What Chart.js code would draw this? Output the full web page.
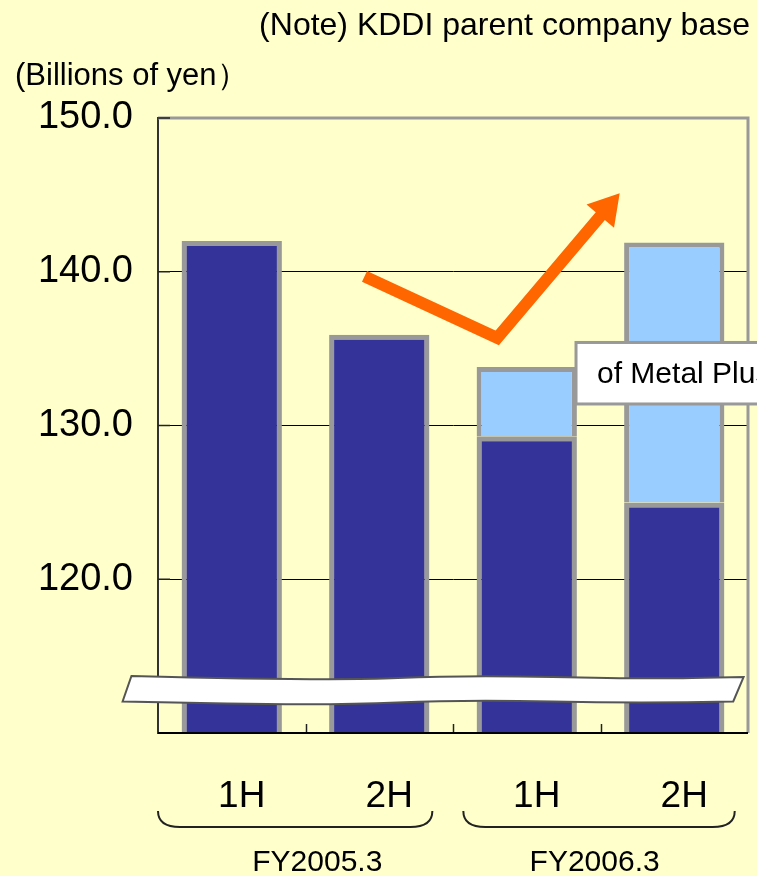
<!DOCTYPE html>
<html>
<head>
<meta charset="utf-8">
<script src="https://cdn.jsdelivr.net/npm/chart.js@4/dist/chart.umd.min.js"></script>
<style>
html,body{margin:0;padding:0;background:#FFFFCC;}
#c{display:block;}
</style>
</head>
<body>
<canvas id="c" width="757" height="876"></canvas>
<script>
// ---- data ----
const categories = ['1H', '2H', '1H', '2H'];
const fiscalYears = ['FY2005.3', 'FY2006.3'];
const baseValues = [142.0, 135.9, 129.3, 125.0];        // dark segment (top value)
const metalPlusValues = [null, null, 4.5, 16.9];          // light segment stacked on top
const yTickValues = [120, 130, 140, 150];
const noteText = '(Note) KDDI parent company base';
const unitText = '(Billions of yen\uFF09';
const calloutText = 'of Metal Plus';

// annotation anchors, in data space (category index, value)
const arrowIdx = [0.90, 1.80, 2.63];
const arrowVal = [139.7, 135.7, 145.1];
const bandTopIdx = [-0.68, 0.67, 1.58, 2.77, 3.47];
const bandTopVal = [113.71, 113.38, 113.77, 113.51, 113.64];
const bandBotIdx = [-0.74, 0.67, 1.58, 2.77, 3.40];
const bandBotVal = [112.05, 111.79, 112.18, 111.92, 112.05];

const FONT = "'Liberation Sans', Arial, sans-serif";

function smoothPath(ctx, pts, moveFirst) {
  if (moveFirst) ctx.moveTo(pts[0][0], pts[0][1]); else ctx.lineTo(pts[0][0], pts[0][1]);
  for (let i = 1; i < pts.length - 1; i++) {
    const mx = (pts[i][0] + pts[i + 1][0]) / 2, my = (pts[i][1] + pts[i + 1][1]) / 2;
    ctx.quadraticCurveTo(pts[i][0], pts[i][1], mx, my);
  }
  const l = pts[pts.length - 1];
  ctx.lineTo(l[0], l[1]);
}

const decor = {
  id: 'decor',
  afterDatasetsDraw(chart) {
    const ctx = chart.ctx, xs = chart.scales.x, ys = chart.scales.y, ca = chart.chartArea;
    const X = i => xs.getPixelForValue(i), Y = v => ys.getPixelForValue(v);
    ctx.save();
    // right + top border (gray)
    ctx.strokeStyle = '#999999';
    ctx.lineWidth = 3;
    ctx.beginPath();
    ctx.moveTo(ca.left, ca.top); ctx.lineTo(ca.right, ca.top); ctx.lineTo(ca.right, ca.bottom);
    ctx.stroke();
    // y inward ticks
    ctx.strokeStyle = '#222';
    ctx.lineWidth = 1.5;
    yTickValues.forEach(v => { ctx.beginPath(); ctx.moveTo(ca.left, Y(v)); ctx.lineTo(ca.left + 12, Y(v)); ctx.stroke(); });
    // x inward ticks at category boundaries
    for (let i = 0; i < categories.length - 1; i++) {
      const px = Math.round(X(i + 0.5)) + 0.5;
      ctx.beginPath(); ctx.moveTo(px, ca.bottom); ctx.lineTo(px, ca.bottom - 9); ctx.stroke();
    }
    // bottom axis
    ctx.strokeStyle = '#000'; ctx.lineWidth = 2;
    ctx.beginPath(); ctx.moveTo(ca.left, ca.bottom); ctx.lineTo(ca.right, ca.bottom); ctx.stroke();

    // break band
    const top = bandTopIdx.map((x, k) => [X(x), Y(bandTopVal[k])]);
    const bot = bandBotIdx.map((x, k) => [X(x), Y(bandBotVal[k])]).reverse();
    ctx.beginPath();
    smoothPath(ctx, top, true);
    smoothPath(ctx, bot, false);
    ctx.closePath();
    ctx.fillStyle = '#FFFFFF'; ctx.fill();
    ctx.strokeStyle = '#555555'; ctx.lineWidth = 2; ctx.stroke();

    // arrow
    const p = arrowIdx.map((x, k) => [X(x), Y(arrowVal[k])]);
    const tip = p[2], v = p[1];
    const dx = tip[0] - v[0], dy = tip[1] - v[1], L = Math.hypot(dx, dy);
    const ux = dx / L, uy = dy / L, nx = -uy, ny = ux;
    const headLen = 30, headW = 18;
    const bx = tip[0] - ux * headLen, by = tip[1] - uy * headLen;
    ctx.strokeStyle = '#FF6600'; ctx.fillStyle = '#FF6600';
    ctx.lineWidth = 12; ctx.lineJoin = 'miter'; ctx.lineCap = 'butt';
    ctx.beginPath(); ctx.moveTo(p[0][0], p[0][1]); ctx.lineTo(v[0], v[1]); ctx.lineTo(bx + ux * 4, by + uy * 4); ctx.stroke();
    ctx.beginPath();
    ctx.moveTo(tip[0], tip[1]);
    ctx.lineTo(bx + nx * headW, by + ny * headW);
    ctx.lineTo(bx - nx * headW, by - ny * headW);
    ctx.closePath(); ctx.fill();

    // callout box
    const bxl = X(2.334), byt = Y(135.4), byb = Y(131.4);
    ctx.fillStyle = '#FFFFFF';
    ctx.fillRect(bxl, byt, 300, byb - byt);
    ctx.strokeStyle = '#999999'; ctx.lineWidth = 3;
    ctx.strokeRect(bxl, byt, 300, byb - byt);
    ctx.fillStyle = '#000'; ctx.font = '30px ' + FONT;
    ctx.textAlign = 'left'; ctx.textBaseline = 'middle';
    ctx.fillText(calloutText, bxl + 21, (byt + byb) / 2 + 2);

    // below-axis labels
    ctx.font = '37px ' + FONT; ctx.textAlign = 'center'; ctx.textBaseline = 'middle';
    categories.forEach((c, i) => ctx.fillText(c, X(i) + 10, ca.bottom + 64));
    // brackets
    const groups = [[-0.5, 1.36], [1.57, 3.41]];
    ctx.strokeStyle = '#222'; ctx.lineWidth = 2;
    groups.forEach(g => {
      const x0 = X(g[0]), x1 = X(g[1]), yt = ca.bottom + 78, yb = ca.bottom + 94, r = 16;
      ctx.beginPath();
      ctx.moveTo(x0, yt);
      ctx.quadraticCurveTo(x0, yb, x0 + r + 6, yb);
      ctx.lineTo(x1 - r - 6, yb);
      ctx.quadraticCurveTo(x1, yb, x1, yt);
      ctx.stroke();
    });
    ctx.font = '30px ' + FONT;
    const fyIdx = [0.58, 2.46];
    fiscalYears.forEach((f, i) => ctx.fillText(f, X(fyIdx[i]), ca.bottom + 130));

    // header texts
    ctx.font = '32px ' + FONT; ctx.textAlign = 'right';
    ctx.fillText(noteText, 750, 26);
    ctx.font = '31px ' + FONT; ctx.textAlign = 'left';
    ctx.fillText(unitText, 15, 76);
    ctx.restore();
  }
};

new Chart(document.getElementById('c'), {
  type: 'bar',
  data: {
    labels: categories,
    datasets: [
      { data: baseValues, backgroundColor: '#333399', borderColor: '#999999', borderWidth: 5, borderSkipped: false,
        barPercentage: 0.68, categoryPercentage: 1.0 },
      { data: metalPlusValues, backgroundColor: '#99CCFF', borderColor: '#999999', borderWidth: 5, borderSkipped: 'bottom',
        barPercentage: 0.68, categoryPercentage: 1.0 }
    ]
  },
  options: {
    responsive: false,
    animation: false,
    events: [],
    layout: { padding: { top: 118, right: 9, left: 0, bottom: 0 } },
    plugins: { legend: { display: false }, tooltip: { enabled: false } },
    scales: {
      x: {
        stacked: true,
        grid: { display: false },
        border: { display: false },
        ticks: { display: false },
        afterFit(s) { s.height = 143; }
      },
      y: {
        stacked: true,
        min: 110, max: 150,
        afterBuildTicks(s) { s.ticks = [110].concat(yTickValues).map(v => ({ value: v })); },
        ticks: {
          callback: v => (v === 110 ? '' : v.toFixed(1)),
          font: { family: FONT, size: 38 },
          color: '#000',
          padding: 25
        },
        grid: {
          color: c => (c.tick && (c.tick.value === 150 || c.tick.value === 110)) ? 'rgba(0,0,0,0)' : '#000',
          lineWidth: 1,
          drawTicks: false
        },
        border: { display: true, color: '#333333', width: 2 },
        afterFit(s) { s.width = 158; }
      }
    }
  },
  plugins: [decor]
});
</script>
</body>
</html>
